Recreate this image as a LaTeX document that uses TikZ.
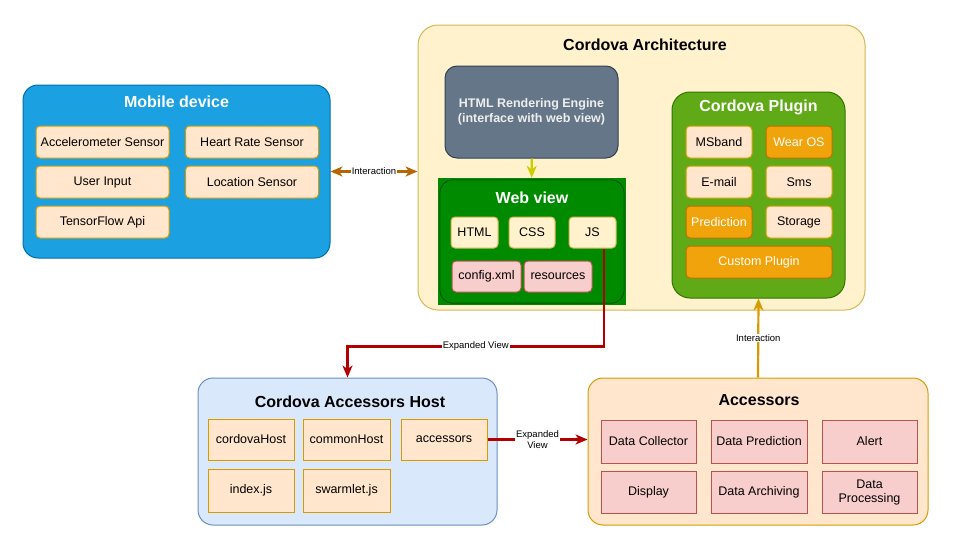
\documentclass[tikz,border=0pt]{standalone}
\usepackage{fontspec}
\setmainfont{Liberation Sans}
\usetikzlibrary{arrows.meta}

\definecolor{mobfill}{HTML}{1BA1E2}
\definecolor{mobline}{HTML}{006EAF}
\definecolor{archfill}{HTML}{FFF2CC}
\definecolor{archline}{HTML}{D6B656}
\definecolor{engfill}{HTML}{647687}
\definecolor{engline}{HTML}{314354}
\definecolor{webfill}{HTML}{008A00}
\definecolor{webline}{HTML}{005700}
\definecolor{plugfill}{HTML}{60A917}
\definecolor{plugline}{HTML}{2D7600}
\definecolor{peach}{HTML}{FFE6CC}
\definecolor{peachline}{HTML}{D79B00}
\definecolor{amber}{HTML}{F0A30A}
\definecolor{amberline}{HTML}{BD7000}
\definecolor{rose}{HTML}{F8CECC}
\definecolor{roseline}{HTML}{B85450}
\definecolor{hostfill}{HTML}{DAE8FC}
\definecolor{hostline}{HTML}{6C8EBF}
\definecolor{linkred}{HTML}{B20000}
\definecolor{linkbrown}{HTML}{B46504}
\definecolor{linkyellow}{HTML}{CCCC00}
\definecolor{enginetext}{HTML}{EEEEEE}

\begin{document}
\begin{tikzpicture}[x=1pt, y=-1pt,
		size/.style 2 args={minimum width=#1pt, minimum height=#2pt},
		group/.style={line width=1pt, rounded corners=15pt, inner sep=0pt},
		item/.style={line width=1pt, rounded corners=4pt, inner sep=0pt, align=center, font=\fontsize{12.5}{14}\selectfont},
		title/.style={font=\bfseries\fontsize{16}{19}\selectfont},
		lbl/.style={fill=white, inner sep=1pt, align=center, font=\fontsize{9.5}{11}\selectfont},
		>={Stealth[length=12pt, width=10pt, inset=3.5pt]},
		link/.style={line width=2.2pt, draw=#1}]
		\useasboundingbox (0,0) rectangle (977,546);
		
		% mobile device
		\node[group, fill=mobfill, draw=mobline, size={307}{173}] (mob) at (176.5,171.5) {};
		\node[title, text=white] (mob-title) at (176.5,102) {Mobile device};
		\node[item, fill=peach, draw=peachline, size={133}{32}] (accel) at (102.5,142) {Accelerometer Sensor};
		\node[item, fill=peach, draw=peachline, size={133}{32}] (heart) at (252,142) {Heart Rate Sensor};
		\node[item, fill=peach, draw=peachline, size={133}{32}] (input) at (102.5,182) {User Input};
		\node[item, fill=peach, draw=peachline, size={133}{32}] (loc) at (252,182) {Location Sensor};
		\node[item, fill=peach, draw=peachline, size={133}{32}] (tf) at (102.5,222) {TensorFlow Api};
		
		% cordova architecture
		\node[group, rounded corners=20pt, fill=archfill, draw=archline, size={447}{285}] (arch) at (641.5,167.5) {};
		\node[title] (arch-title) at (645,45) {Cordova Architecture};
		\node[item, rounded corners=12pt, fill=engfill, draw=engline, size={173}{92}, text=enginetext, font=\bfseries\fontsize{12.5}{15}\selectfont] (engine) at (531.5,112) {HTML Rendering Engine\\(interface with web view)};
		
		% web view
		\node[fill=webfill, inner sep=0pt, size={188}{127}] (web) at (532,241.5) {};
		\draw[webline, line width=1pt, rounded corners=13pt] ([shift={(2pt,-2pt)}]web.north west) rectangle ([shift={(-2pt,2pt)}]web.south east);
		\node[title, text=white] (web-title) at (532,198) {Web view};
		\node[item, fill=archfill, draw=archline, size={47}{31}] (html) at (474.5,232.5) {HTML};
		\node[item, fill=archfill, draw=archline, size={46}{31}] (css) at (532,232.5) {CSS};
		\node[item, fill=archfill, draw=archline, size={47}{31}] (js) at (592.5,232.5) {JS};
		\node[item, fill=rose, draw=roseline, size={69}{31}] (config) at (486.5,276.5) {config.xml};
		\node[item, fill=rose, draw=roseline, size={68}{31}] (res) at (558,276.5) {resources};
		
		% cordova plugin
		\node[group, rounded corners=18pt, fill=plugfill, draw=plugline, size={173}{206}] (plug) at (758.5,195) {};
		\node[title, text=white] (plug-title) at (758.5,107) {Cordova Plugin};
		\node[item, fill=peach, draw=peachline, size={66}{32}] (msband) at (719,142) {MSband};
		\node[item, fill=amber, draw=amberline, size={66}{32}, text=white] (wear) at (799,142) {Wear OS};
		\node[item, fill=peach, draw=peachline, size={66}{32}] (email) at (719,182) {E-mail};
		\node[item, fill=peach, draw=peachline, size={66}{32}] (sms) at (799,182) {Sms};
		\node[item, fill=amber, draw=amberline, size={66}{32}, text=white] (pred) at (719,222) {Prediction};
		\node[item, fill=peach, draw=peachline, size={66}{32}] (storage) at (799,222) {Storage};
		\node[item, fill=amber, draw=amberline, size={146}{32}, text=white] (custom) at (759,262) {Custom Plugin};
		
		% cordova accessors host
		\node[group, fill=hostfill, draw=hostline, size={299}{147}] (host) at (347.5,451.5) {};
		\node[title] (host-title) at (350,402) {Cordova Accessors Host};
		\node[item, rounded corners=0pt, fill=peach, draw=peachline, size={86}{41}] (chost) at (251,439.5) {cordovaHost};
		\node[item, rounded corners=0pt, fill=peach, draw=peachline, size={87}{41}] (comhost) at (346.5,439.5) {commonHost};
		\node[item, rounded corners=0pt, fill=peach, draw=peachline, size={86}{41}] (accr) at (444,439.5) {accessors};
		\node[item, rounded corners=0pt, fill=peach, draw=peachline, size={86}{43}] (index) at (251,490.5) {index.js};
		\node[item, rounded corners=0pt, fill=peach, draw=peachline, size={87}{43}] (swarm) at (346.5,490.5) {swarmlet.js};
		
		% accessors
		\node[group, fill=peach, draw=peachline, size={340}{147}] (accs) at (758,451.5) {};
		\node[title] (accs-title) at (759,400) {Accessors};
		\node[item, rounded corners=0pt, fill=rose, draw=roseline, size={95}{43}] (collect) at (648.5,441.5) {Data Collector};
		\node[item, rounded corners=0pt, fill=rose, draw=roseline, size={96}{43}] (dpred) at (759,441.5) {Data Prediction};
		\node[item, rounded corners=0pt, fill=rose, draw=roseline, size={95}{43}] (alert) at (869.5,441.5) {Alert};
		\node[item, rounded corners=0pt, fill=rose, draw=roseline, size={95}{42}] (display) at (648.5,492) {Display};
		\node[item, rounded corners=0pt, fill=rose, draw=roseline, size={96}{42}] (archiv) at (759,492) {Data Archiving};
		\node[item, rounded corners=0pt, fill=rose, draw=roseline, size={95}{42}] (proc) at (869.5,492) {Data\\Processing};
		
		% connectors
		\draw[link=linkbrown, <->] (mob.east) -- (mob.east -| arch.west) node[lbl, midway] {Interaction};
		\draw[link=linkyellow, ->] (engine) -- (web);
		\draw[link=linkred, ->] ([xshift=11.5pt]js.south) -- ++(0,98) -| (host.north) node[lbl, pos=0.25] {Expanded View};
		\draw[link=linkred, ->] (accr.east) -- (accr.east -| accs.west) node[lbl, midway] {Expanded\\View};
		\draw[link=peachline, ->] (accs.north) -- (plug.south) node[lbl, midway] {Interaction};
	\end{tikzpicture}
\end{document}
